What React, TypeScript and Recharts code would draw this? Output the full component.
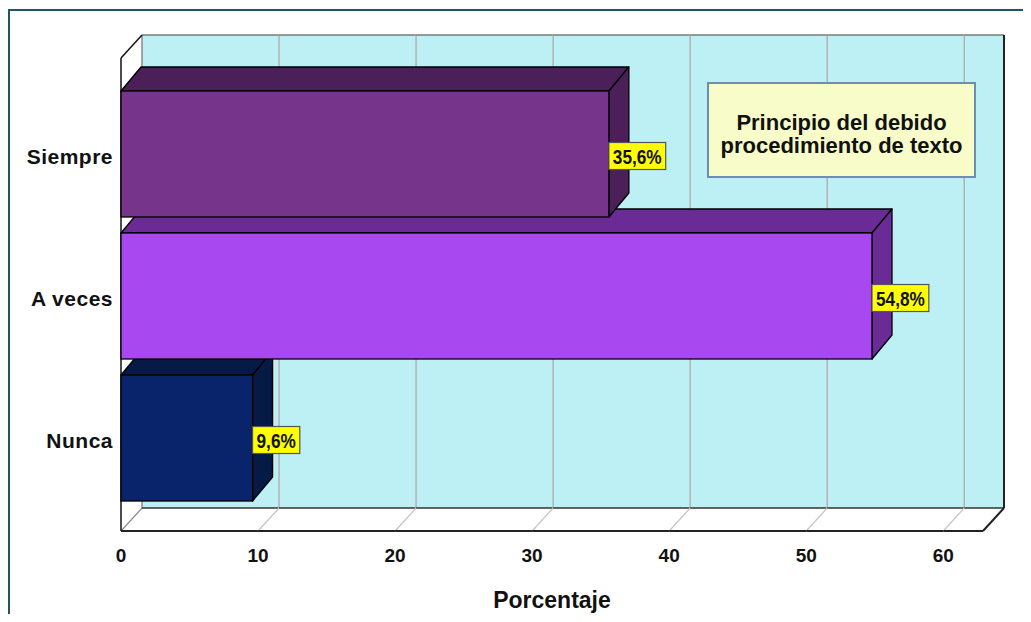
import React from 'react';
import { BarChart, Bar, XAxis, YAxis, ReferenceArea, Cell, LabelList } from 'recharts';

// ---- data ----
const categories = ['Nunca', 'A veces', 'Siempre'];
const percentages = [9.6, 54.8, 35.6];
const frontColors = ['#0A246C', '#A748F0', '#76358A'];
const sideColors = ['#061A46', '#6B2B96', '#4B2058'];
const xTicks = [0, 10, 20, 30, 40, 50, 60];
const AXIS_MAX = 62.9;
const legendLines = ['Principio del debido', 'procedimiento de texto'];
const axisTitle = 'Porcentaje';

const data = categories.map((name, i) => ({ name, value: percentages[i] }));

// ---- styling ----
const FONT = "'Liberation Sans', Arial, Helvetica, sans-serif";
const WALL_DX = 21;
const WALL_DY = 23;
const FRONT_TOP_PAD = 25;
const FRONT_BOTTOM_PAD = 22;
const BAR_DX = 20;
const BAR_DY = 24;

const fmt = (v: number) => v.toFixed(1).replace('.', ',') + '%';
const narrowWidth = (s: string, size: number) => {
  let w = 0;
  for (const ch of s) {
    if (ch === ',' || ch === '.') w += 0.228;
    else if (ch === '%') w += 0.729;
    else w += 0.456;
  }
  return w * size;
};

const makeSlice = (first: boolean, last: boolean) => (p: any) => {
  const x = p.x, y = p.y, w = p.width, h = p.height;
  if (x == null || y == null) return <g />;
  const fTop = y - FRONT_TOP_PAD;
  const fBot = y + h + FRONT_BOTTOM_PAD;
  const bTop = fTop - WALL_DY;
  const bBot = fBot - WALL_DY;
  return (
    <g>
      {first && (
        <polygon
          points={`${x},${fTop} ${x + WALL_DX},${bTop} ${x + WALL_DX},${bBot} ${x},${fBot}`}
          fill="#ffffff"
        />
      )}
      <rect x={x + WALL_DX} y={bTop} width={w} height={bBot - bTop} fill="#BDF0F4" />
      <polygon
        points={`${x},${fBot} ${x + w},${fBot} ${x + w + WALL_DX},${bBot} ${x + WALL_DX},${bBot}`}
        fill="#ffffff"
      />
      <line x1={x + WALL_DX} y1={bTop} x2={x + WALL_DX} y2={bBot} stroke={first ? '#8a8a8a' : '#B2B2B2'} strokeWidth={1.5} />
      <line x1={x} y1={fBot} x2={x + WALL_DX} y2={bBot} stroke={first ? '#8a8a8a' : '#C4C4C4'} strokeWidth={1.2} />
      <line x1={x + WALL_DX} y1={bTop} x2={x + w + WALL_DX} y2={bTop} stroke="#7a7a7a" strokeWidth={1.5} />
      <line x1={x + WALL_DX} y1={bBot} x2={x + w + WALL_DX} y2={bBot} stroke="#333333" strokeWidth={1.6} />
      <line x1={x} y1={fBot} x2={x + w} y2={fBot} stroke="#222222" strokeWidth={2} />
      {first && (
        <g>
          <line x1={x} y1={fTop} x2={x} y2={fBot} stroke="#111111" strokeWidth={1.5} />
          <line x1={x} y1={fTop} x2={x + WALL_DX} y2={bTop} stroke="#111111" strokeWidth={1.5} />
        </g>
      )}
      {last && (
        <g>
          <line x1={x + w + WALL_DX} y1={bTop} x2={x + w + WALL_DX} y2={bBot} stroke="#222222" strokeWidth={2} />
          <line x1={x + w} y1={fBot} x2={x + w + WALL_DX} y2={bBot} stroke="#222222" strokeWidth={2} />
        </g>
      )}
    </g>
  );
};

const Bar3D = (props: any) => {
  const { x, y, width, height } = props;
  let idx = props.index;
  if (props.payload && props.payload.name) idx = categories.indexOf(props.payload.name);
  const front = frontColors[idx] ?? props.fill;
  const side = sideColors[idx] ?? '#333';
  if (x == null || width == null) return <g />;
  const sw = 1.3;
  return (
    <g>
      <polygon
        points={`${x},${y} ${x + BAR_DX},${y - BAR_DY} ${x + width + BAR_DX},${y - BAR_DY} ${x + width},${y}`}
        fill={side}
        stroke="#000"
        strokeWidth={sw}
        strokeLinejoin="round"
      />
      <polygon
        points={`${x + width},${y} ${x + width + BAR_DX},${y - BAR_DY} ${x + width + BAR_DX},${y + height - BAR_DY} ${x + width},${y + height}`}
        fill={side}
        stroke="#000"
        strokeWidth={sw}
        strokeLinejoin="round"
      />
      <rect x={x} y={y} width={width} height={height} fill={front} stroke="#000" strokeWidth={sw} />
    </g>
  );
};

const ValueLabel = (props: any) => {
  const vb = props.viewBox || {};
  const x = props.x ?? vb.x;
  const y = props.y ?? vb.y;
  const width = props.width ?? vb.width;
  const height = props.height ?? vb.height;
  if (x == null || y == null) return null;
  const text = fmt(Number(props.value));
  const size = 21;
  const tw = narrowWidth(text, size);
  const bw = tw + 8;
  const bh = 27;
  const bx = x + width;
  const cy = y + height / 2 + 2;
  return (
    <g>
      <rect x={bx} y={cy - bh / 2} width={bw} height={bh} fill="#FFFF00" stroke="#555555" strokeWidth={1.2} />
      <text
        x={bx + 4}
        y={cy + 7.5}
        textAnchor="start"
        textLength={tw}
        lengthAdjust="spacingAndGlyphs"
        fontFamily={FONT}
        fontWeight="bold"
        fontSize={size}
        fill="#111"
      >
        {text}
      </text>
    </g>
  );
};

const XTick = (props: any) => {
  const { x, y, payload } = props;
  return (
    <text x={x} y={y + 53} textAnchor="middle" fontFamily={FONT} fontWeight="bold" fontSize={19} fill="#111">
      {payload.value}
    </text>
  );
};

const YTick = (props: any) => {
  const { x, y, payload } = props;
  return (
    <text
      x={x}
      y={y + 10}
      textAnchor="end"
      fontFamily={FONT}
      fontWeight="bold"
      fontSize={21}
      letterSpacing={0.5}
      fill="#111"
    >
      {payload.value}
    </text>
  );
};

const AxisTitle = (props: any) => {
  const vb = props.viewBox || { x: 113, y: 501, width: 862, height: 30 };
  return (
    <text
      x={vb.x + vb.width / 2}
      y={vb.y + 99}
      textAnchor="middle"
      fontFamily={FONT}
      fontWeight="bold"
      fontSize={23}
      fill="#111"
    >
      {axisTitle}
    </text>
  );
};

export default function App() {
  return (
    <div style={{ position: 'relative', width: 1015, height: 606, overflow: 'hidden', background: '#fff' }}>
      <div
        style={{
          position: 'absolute',
          left: 0,
          top: 1,
          width: 1100,
          height: 700,
          borderLeft: '2px solid #1E5867',
          borderTop: '2px solid #1E5867',
        }}
      />
      <div style={{ position: 'absolute', left: 0, top: 0 }}>
        <BarChart
          width={1015}
          height={606}
          layout="vertical"
          data={data}
          margin={{ top: 75, right: 40, bottom: 75, left: 13 }}
        >
          {xTicks.map((t, i) => (
            <ReferenceArea
              key={'wall' + t}
              x1={t}
              x2={i < xTicks.length - 1 ? xTicks[i + 1] : AXIS_MAX}
              ifOverflow="visible"
              shape={makeSlice(i === 0, i === xTicks.length - 1)}
            />
          ))}
          <XAxis
            type="number"
            domain={[0, AXIS_MAX]}
            ticks={xTicks}
            height={30}
            axisLine={false}
            tickLine={false}
            tickSize={0}
            tickMargin={0}
            tick={<XTick />}
            interval={0}
            label={<AxisTitle />}
          />
          <YAxis
            type="category"
            dataKey="name"
            reversed
            width={100}
            axisLine={false}
            tickLine={false}
            tickSize={0}
            tickMargin={8}
            tick={<YTick />}
          />
          <Bar dataKey="value" barSize={126} isAnimationActive={false} shape={<Bar3D />}>
            {data.map((d, i) => (
              <Cell key={d.name} fill={frontColors[i]} />
            ))}
            <LabelList dataKey="value" content={<ValueLabel />} />
          </Bar>
        </BarChart>
      </div>
      <div
        style={{
          position: 'absolute',
          left: 699,
          top: 74,
          width: 269,
          height: 96,
          boxSizing: 'border-box',
          border: '2px solid #6E8DB6',
          background: '#F7FCC9',
          fontFamily: FONT,
          fontWeight: 'bold',
          fontSize: 22,
          lineHeight: '23px',
          textAlign: 'center',
          color: '#111',
          paddingTop: 27,
        }}
      >
        {legendLines.map((l) => (
          <div key={l}>{l}</div>
        ))}
      </div>
    </div>
  );
}
